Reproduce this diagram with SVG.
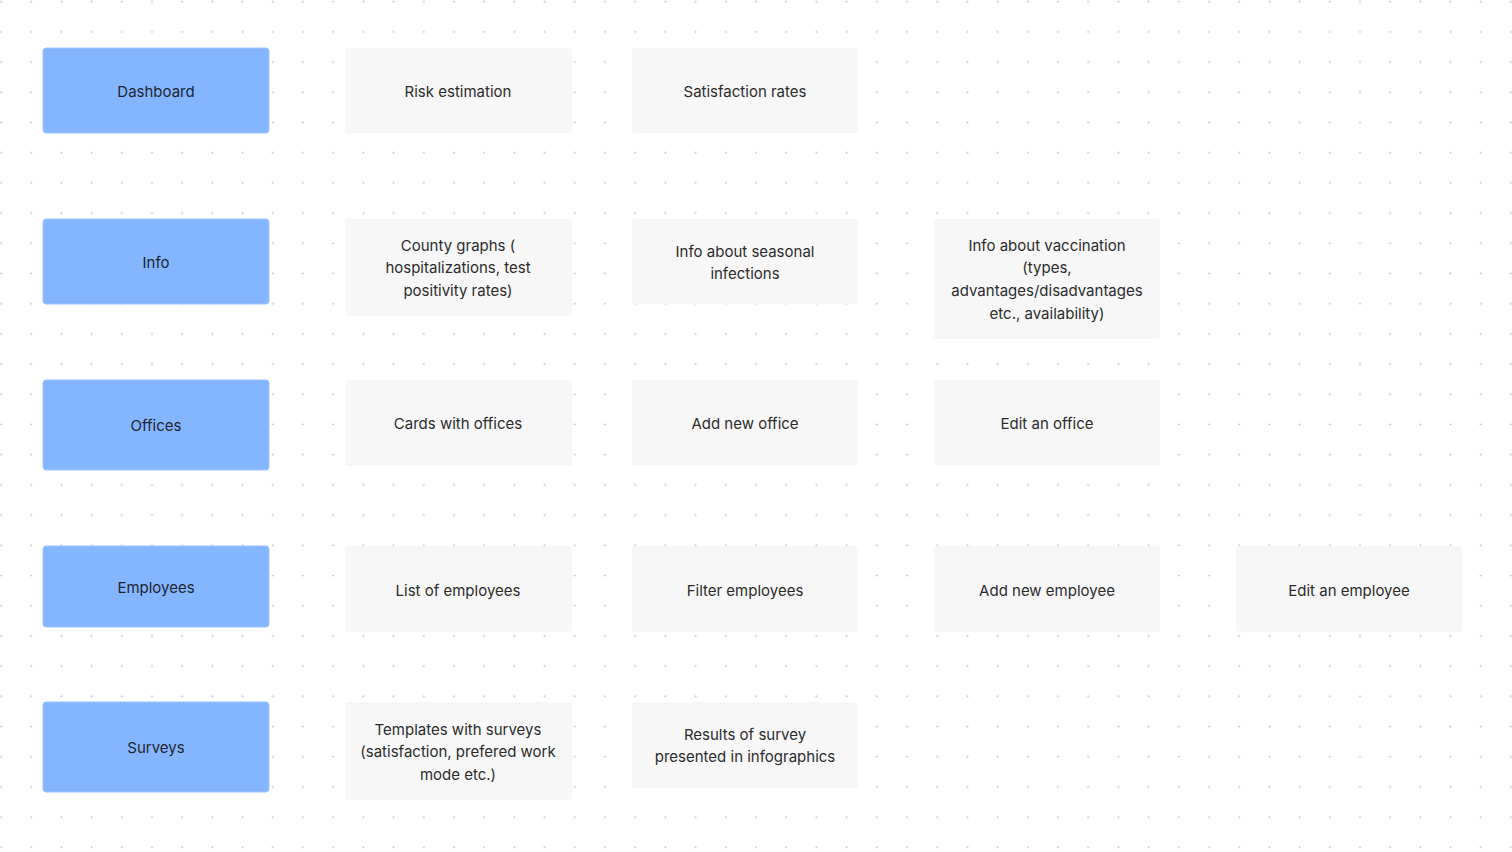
<svg xmlns="http://www.w3.org/2000/svg" width="1512" height="852" viewBox="0 0 1512 852">
<style>
.blue{fill:#84B6FF;stroke:#9CC4FF;stroke-width:1}
.card{fill:#F7F7F7}
text{font-family:Inter,"Noto Sans","Liberation Sans",sans-serif;font-size:15px;fill:#2c2c2c;text-anchor:middle}
.bt{fill:#1f2530}
</style>
<defs>
<pattern id="dots" patternUnits="userSpaceOnUse" x="-14.1" y="-13.4" width="30.2" height="30.2">
<circle cx="15.1" cy="15.1" r="1" fill="#c4c4c4"/>
</pattern>
</defs>
<rect width="1512" height="852" fill="#ffffff"/>
<rect width="1512" height="852" fill="url(#dots)"/>
<g id="connectors"></g>

<g id="dashboard"><rect class="blue" x="43" y="48" width="226" height="85" rx="3"/><text class="bt" x="156" y="96.5">Dashboard</text></g>
<g id="risk-estimation"><rect class="card" x="345" y="48" width="227" height="85" rx="3"/><text x="458" y="96.5">Risk estimation</text></g>
<g id="satisfaction-rates"><rect class="card" x="632" y="48" width="226" height="85" rx="3"/><text x="745" y="96.5">Satisfaction rates</text></g>

<g id="info"><rect class="blue" x="43" y="219" width="226" height="85" rx="3"/><text class="bt" x="156" y="267.5">Info</text></g>
<g id="county-graphs"><rect class="card" x="345" y="219" width="227" height="97" rx="3"/><text x="458" y="250.5">County graphs (</text><text x="458" y="273.2">hospitalizations, test</text><text x="458" y="295.9">positivity rates)</text></g>
<g id="seasonal-infections"><rect class="card" x="632" y="219" width="226" height="85" rx="3"/><text x="745" y="256.5">Info about seasonal</text><text x="745" y="279.2">infections</text></g>
<g id="vaccination"><rect class="card" x="934" y="219" width="226" height="120" rx="3"/><text x="1047" y="250.5">Info about vaccination</text><text x="1047" y="273.2">(types,</text><text x="1047" y="295.9">advantages/disadvantages</text><text x="1047" y="318.6">etc., availability)</text></g>

<g id="offices"><rect class="blue" x="43" y="380" width="226" height="90" rx="3"/><text class="bt" x="156" y="430.5">Offices</text></g>
<g id="cards-with-offices"><rect class="card" x="345" y="380" width="227" height="86" rx="3"/><text x="458" y="428.5">Cards with offices</text></g>
<g id="add-new-office"><rect class="card" x="632" y="380" width="226" height="86" rx="3"/><text x="745" y="428.5">Add new office</text></g>
<g id="edit-office"><rect class="card" x="934" y="380" width="226" height="86" rx="3"/><text x="1047" y="428.5">Edit an office</text></g>

<g id="employees"><rect class="blue" x="43" y="546" width="226" height="81" rx="3"/><text class="bt" x="156" y="592.5">Employees</text></g>
<g id="list-employees"><rect class="card" x="345" y="546" width="227" height="86" rx="3"/><text x="458" y="595.5">List of employees</text></g>
<g id="filter-employees"><rect class="card" x="632" y="546" width="226" height="86" rx="3"/><text x="745" y="595.5">Filter employees</text></g>
<g id="add-employee"><rect class="card" x="934" y="546" width="226" height="86" rx="3"/><text x="1047" y="595.5">Add new employee</text></g>
<g id="edit-employee"><rect class="card" x="1236" y="546" width="226" height="86" rx="3"/><text x="1349" y="595.5">Edit an employee</text></g>

<g id="surveys"><rect class="blue" x="43" y="702" width="226" height="90" rx="3"/><text class="bt" x="156" y="752.5">Surveys</text></g>
<g id="survey-templates"><rect class="card" x="345" y="702" width="227" height="98" rx="3"/><text x="458" y="734.5">Templates with surveys</text><text x="458" y="757.2">(satisfaction, prefered work</text><text x="458" y="779.9">mode etc.)</text></g>
<g id="survey-results"><rect class="card" x="632" y="702" width="226" height="86" rx="3"/><text x="745" y="739.5">Results of survey</text><text x="745" y="762.2">presented in infographics</text></g>
</svg>
